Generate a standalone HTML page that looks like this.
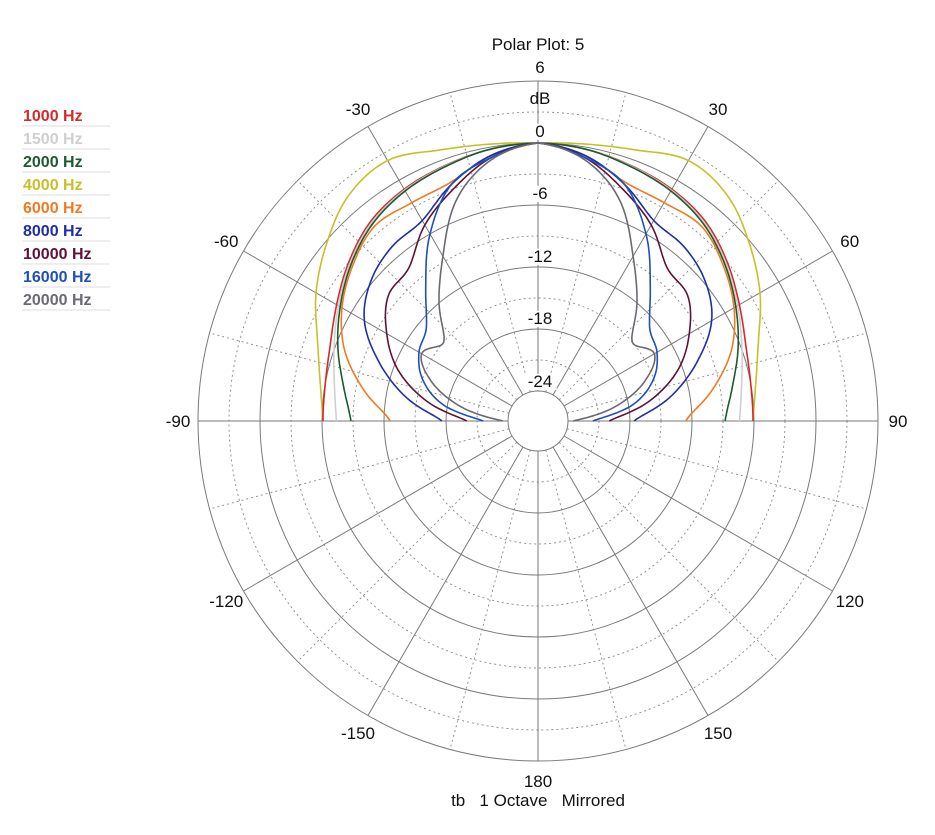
<!DOCTYPE html>
<html><head><meta charset="utf-8"><style>
body{margin:0;background:#fff;}
svg{display:block;font-family:"Liberation Sans",Arial,sans-serif;}
</style></head><body>
<svg id="chart" width="935" height="835" viewBox="0 0 935 835">
<g id="grid"></g>
<g id="curves"></g>
<g id="labels"></g>
<g id="legend"></g>
</svg>
<script>
const angles = [0,10,20,30,40,50,60,70,80,90];
const freqNames = ["1000 Hz","1500 Hz","2000 Hz","4000 Hz","6000 Hz","8000 Hz","10000 Hz","16000 Hz","20000 Hz"];
const colors = ["#d42a2a","#cfcfcf","#1c5a30","#c8c02a","#f07a22","#1e2ea8","#5e1238","#1f50b8","#6a6a72"];
const s1000 = [0,-0.2,-0.6,-1,-1.7,-3,-4.4,-5.5,-6,-6.1];
const s1500 = [0,-0.2,-0.65,-1.1,-1.85,-3.15,-4.6,-5.9,-6.9,-7.4];
const s2000 = [0,-0.2,-0.7,-1.2,-2,-3.3,-4.8,-6.3,-7.8,-8.8];
const s4000 = [0,0.3,1.0,2.2,1.6,-0.2,-2.1,-4.2,-5.5,-6.1];
const s6000 = [0,-0.8,-2.3,-2.5,-2.3,-3.5,-5,-7,-9.8,-12.6];
const s8000 = [0,-0.8,-2.5,-4.5,-4.9,-5.8,-7.5,-10.6,-14,-17.6];
const s10000 = [0,-1,-3,-5,-7.5,-8,-10,-12.5,-16,-20];
const s16000 = [0,-1,-2.5,-6,-10,-12.8,-13.6,-15,-17.5,-21.6];
const s20000 = [0,-1.2,-4,-8.5,-12,-15,-13.9,-16,-19.5,-23.5];
const series = [s1000,s1500,s2000,s4000,s6000,s8000,s10000,s16000,s20000];
const dbTicks = ["6","dB","0","-6","-12","-18","-24"];
const angleTicks = [-150,-120,-90,-60,-30,30,60,90,120,150,180];

const NS="http://www.w3.org/2000/svg";
const CX=538, CY=421, R0=30, PER6=62;
function rScale(db){return R0+(db+24)*PER6/6;}
function pt(deg,r){const a=deg*Math.PI/180;return [CX+r*Math.sin(a),CY-r*Math.cos(a)];}
function mk(tag,attrs,parent){const e=document.createElementNS(NS,tag);for(const k in attrs)e.setAttribute(k,attrs[k]);parent.appendChild(e);return e;}
const grid=document.getElementById('grid');
const Rmax=rScale(6);
for(let db=-21;db<=6;db+=3){
  const c=mk('circle',{cx:CX,cy:CY,r:rScale(db),fill:'none',stroke:db%6===0?'#7a7a7a':'#8a8a8a','stroke-width':db%6===0?1:0.9,'stroke-dasharray':db%6===0?'':'2,3'},grid);
  
  
}
for(let a=0;a<360;a+=15){
  const p1=pt(a,R0),p2=pt(a,Rmax);
  const l=mk('line',{x1:p1[0],y1:p1[1],x2:p2[0],y2:p2[1],stroke:a%30===0?'#7a7a7a':'#8a8a8a','stroke-width':a%30===0?1:0.9,'stroke-dasharray':a%30===0?'':'2,3'},grid);
  
  
}
const inner=mk('circle',{cx:CX,cy:CY,r:R0,fill:'#fff',stroke:'#7a7a7a','stroke-width':1},grid);



function interp(vals,t){
  const i=Math.min(Math.floor(t),vals.length-2), f=t-i;
  const p0=vals[Math.max(i-1,0)],p1=vals[i],p2=vals[i+1],p3=vals[Math.min(i+2,vals.length-1)];
  return 0.5*((2*p1)+(-p0+p2)*f+(2*p0-5*p1+4*p2-p3)*f*f+(-p0+3*p1-3*p2+p3)*f*f*f);
}
const curves=document.getElementById('curves');
const order=[3,0,1,2,4,5,6,7,8];
order.forEach(si=>{
  const vals=series[si];
  const step=angles[1]-angles[0];
  let d='';
  const N=angles.length-1;
  for(let k=-N*10;k<=N*10;k++){
    const t=Math.abs(k)/10;
    const deg=(k<0?-1:1)*t*step;
    const r=Math.max(rScale(interp(vals,t)),R0);
    const p=pt(deg,r);
    d+=(d?'L':'M')+p[0].toFixed(1)+','+p[1].toFixed(1);
  }
  const path=mk('path',{d:d,fill:'none',stroke:colors[si],'stroke-width':1.6},curves);
  
  
});

const labels=document.getElementById('labels');
function txt(x,y,s,size,name,bg){
  if(bg){const w=s.length*size*0.58+4;const r=mk('rect',{x:x-w/2,y:y-size*0.78,width:w,height:size*0.95,fill:'#fff'},labels);
    
    }
  const t=mk('text',{x:x,y:y,'font-size':size,'text-anchor':'middle',fill:'#111'},labels);
  t.textContent=s;
  
  
}
txt(538,50,"Polar Plot: 5",17,'chart-title');
txt(538,806,"tb\u00a0\u00a0\u00a01 Octave\u00a0\u00a0\u00a0Mirrored",17,'chart-subtitle');
const dbY=[73,104,137,199,262,324,387];
dbTicks.forEach((s,i)=>txt(540,dbY[i],s,17,'db-tick-label',i>1));
angleTicks.forEach(a=>{
  const p=pt(a,360);
  txt(p[0],p[1]+6,String(a),17,'angle-tick-label');
});

const legend=document.getElementById('legend');
freqNames.forEach((n,i)=>{
  const y=121+i*23;
  const t=mk('text',{x:23,y:y,'font-size':16,'font-weight':'bold',fill:colors[i]},legend);
  t.textContent=n;
  
  
  const l=mk('line',{x1:22,y1:y+5,x2:110,y2:y+5,stroke:'#ddd','stroke-width':1},legend);
  
  
});
</script>
</body></html>
